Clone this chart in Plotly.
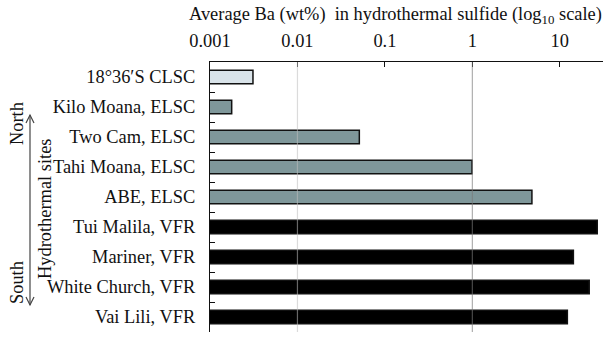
import plotly.graph_objects as go

sites = ["18°36′S CLSC", "Kilo Moana, ELSC", "Two Cam, ELSC", "Tahi Moana, ELSC",
         "ABE, ELSC", "Tui Malila, VFR", "Mariner, VFR", "White Church, VFR", "Vai Lili, VFR"]
ba_wt = [0.0031, 0.00177, 0.051, 0.99, 4.8, 26.8, 14.3, 21.7, 12.2]
fill_colors = ["#d9e3e9", "#7f979a", "#7f979a", "#7f979a", "#7f979a",
               "#000000", "#000000", "#000000", "#000000"]
tick_vals = [0.001, 0.01, 0.1, 1, 10]
tick_text = ["0.001", "0.01", "0.1", "1", "10"]
grid_vals = [0.01, 1]
grid_colors = ["rgba(190,190,190,0.55)", "rgba(120,120,120,0.6)"]

FONT = '"Liberation Serif", "Times New Roman", Times, Tinos, "DejaVu Serif", "Noto Serif", serif'
FS = 18.4

W, H = 608, 338
ML, MR, MT, MB = 210, 5, 62, 6
PW, PH = W - ML - MR, H - MT - MB


def px(x):
    return (x - ML) / PW


def py(y):
    return (H - MB - y) / PH


fig = go.Figure()
fig.add_trace(go.Bar(
    x=ba_wt, y=sites, orientation="h",
    marker=dict(color=fill_colors, line=dict(color="#111111", width=1.5)),
    showlegend=False,
))

for gv, gc in zip(grid_vals, grid_colors):
    fig.add_shape(type="line", xref="x", yref="paper", x0=gv, x1=gv, y0=0, y1=1,
                  line=dict(color=gc, width=1.2), layer="above")

# north/south arrow (decoration)
arrow_col = "#444444"
fig.add_shape(type="line", xref="paper", yref="paper",
              x0=px(30), x1=px(30), y0=py(115), y1=py(305),
              line=dict(color=arrow_col, width=1.2))
fig.add_shape(type="path", xref="paper", yref="paper",
              path=f"M {px(26)},{py(123)} L {px(30)},{py(115)} L {px(34)},{py(123)}",
              line=dict(color=arrow_col, width=1.2))
fig.add_shape(type="path", xref="paper", yref="paper",
              path=f"M {px(26)},{py(297)} L {px(30)},{py(305)} L {px(34)},{py(297)}",
              line=dict(color=arrow_col, width=1.2))

fig.update_layout(
    width=W, height=H,
    margin=dict(l=ML, r=MR, t=MT, b=MB),
    paper_bgcolor="white", plot_bgcolor="white",
    font=dict(family=FONT, size=FS, color="#111111"),
    bargap=0.55,
    xaxis=dict(
        type="log", side="top", range=[-3, 1.494],
        tickvals=tick_vals, ticktext=tick_text,
        ticks="inside", ticklen=5, tickcolor="#111111",
        showline=True, linecolor="#111111", linewidth=1.2,
        showgrid=False, zeroline=False, automargin=False,
        ticklabelstandoff=7,
        tickfont=dict(family=FONT, size=FS),
    ),
    yaxis=dict(
        categoryorder="array", categoryarray=sites,
        autorange="reversed",
        ticks="inside", ticklen=5, tickson="boundaries", tickcolor="#111111",
        showline=True, linecolor="#111111", linewidth=1.2,
        showgrid=False, zeroline=False, automargin=False,
        ticklabelstandoff=10,
        tickfont=dict(family=FONT, size=FS),
    ),
    annotations=[
        dict(text="Average Ba (wt%)  in hydrothermal sulfide (log<sub>10</sub> scale)",
             xref="paper", yref="paper", x=px(395), y=py(15),
             xanchor="center", yanchor="middle", showarrow=False,
             font=dict(family=FONT, size=FS)),
        dict(text="North", xref="paper", yref="paper",
             x=px(17), y=py(124), textangle=-90,
             xanchor="center", yanchor="middle", showarrow=False,
             font=dict(family=FONT, size=FS)),
        dict(text="South", xref="paper", yref="paper",
             x=px(17), y=py(283), textangle=-90,
             xanchor="center", yanchor="middle", showarrow=False,
             font=dict(family=FONT, size=FS)),
        dict(text="Hydrothermal sites", xref="paper", yref="paper",
             x=px(45), y=py(209), textangle=-90,
             xanchor="center", yanchor="middle", showarrow=False,
             font=dict(family=FONT, size=FS)),
    ],
)

fig.write_html("out.html", config={"displayModeBar": False},
               post_script="document.body.style.margin='0px';document.body.style.padding='0px';")
